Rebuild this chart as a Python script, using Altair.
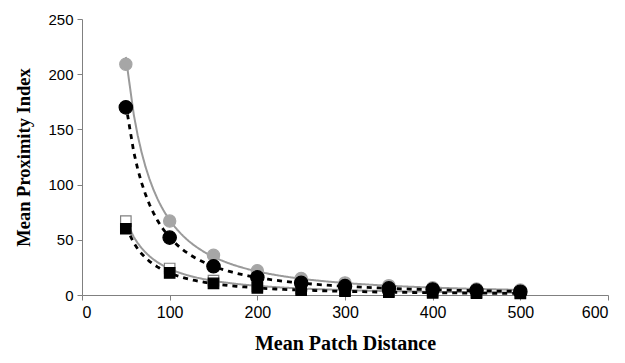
import altair as alt
import pandas as pd

distance = [50, 100, 150, 200, 250, 300, 350, 400, 450, 500]
gray_circle = [209, 67, 36, 22, 15, 11, 8.5, 6.5, 5.5, 4.5]
black_circle = [170, 52, 26, 16, 11, 8, 6, 5, 4, 3]
open_square = [67, 24, 13, 8, 6, 4.5, 3.5, 3, 2.5, 2]
black_square = [60, 20, 10.5, 6.5, 4.5, 3.5, 2.5, 2, 1.7, 1.4]

df = pd.DataFrame({
    "x": distance,
    "gc": gray_circle,
    "bc": black_circle,
    "os": open_square,
    "bs": black_square,
})

xs = alt.Scale(domain=[0, 600], nice=False)
ys = alt.Scale(domain=[0, 250], nice=False)

X_AX = alt.Axis(values=[0, 100, 200, 300, 400, 500, 600], labelFontSize=16,
                titleFontSize=20, titlePadding=13)
Y_AX = alt.Axis(values=[0, 50, 100, 150, 200, 250], labelFontSize=15,
                titleFontSize=18.5, titlePadding=14)


def enc(col):
    return dict(
        x=alt.X("x:Q", scale=xs, title="Mean Patch Distance", axis=X_AX),
        y=alt.Y(col + ":Q", scale=ys, title="Mean Proximity Index", axis=Y_AX),
    )


def trend(col, color, dash, width):
    return alt.Chart(df).transform_regression(
        "x", col, method="pow", extent=[50, 500]
    ).mark_line(color=color, strokeDash=dash, strokeWidth=width).encode(**enc(col))


def points(col, shape, fill, stroke, size):
    return alt.Chart(df).mark_point(
        shape=shape, filled=True, fill=fill, stroke=stroke, strokeWidth=1.2,
        size=size, opacity=1
    ).encode(**enc(col))


chart = alt.layer(
    trend("gc", "#9a9a9a", [1, 0], 2),
    trend("os", "#9a9a9a", [1, 0], 2),
    trend("bc", "#000000", [5, 5], 2.8),
    trend("bs", "#000000", [5, 5], 2.8),
    points("gc", "circle", "#a6a6a6", "#a6a6a6", 150),
    points("os", "square", "#ffffff", "#808080", 110),
    points("bs", "square", "#000000", "#000000", 110),
    points("bc", "circle", "#000000", "#000000", 180),
).properties(
    width=526, height=276,
    autosize=alt.AutoSizeParams(type="none"),
    padding={"left": 82, "top": 19, "right": 17, "bottom": 68},
).configure_view(stroke=None).configure_axis(
    grid=False,
    domainColor="#808080",
    tickColor="#808080",
    tickSize=5,
    labelFont="Liberation Sans",
    labelColor="#000000",
    labelPadding=4,
    titleFont="Liberation Serif",
    titleFontWeight="bold",
    titleColor="#000000",
)

chart.save("out.html", embed_options={"renderer": "svg", "actions": False})
